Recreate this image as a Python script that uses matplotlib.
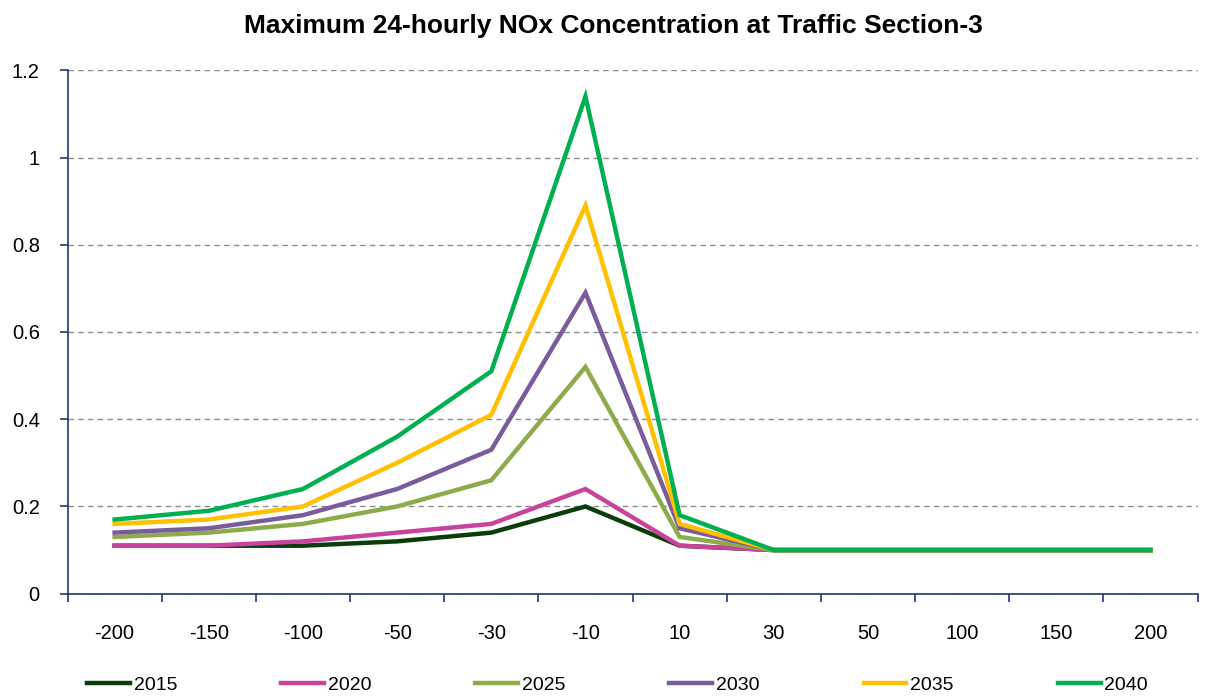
import matplotlib.pyplot as plt
from matplotlib.ticker import FixedLocator

plt.rcParams['font.family'] = ['Liberation Sans', 'DejaVu Sans']

distances = ['-200', '-150', '-100', '-50', '-30', '-10', '10', '30', '50', '100', '150', '200']
years = ['2015', '2020', '2025', '2030', '2035', '2040']

nox_2015 = [0.11, 0.11, 0.11, 0.12, 0.14, 0.20, 0.11, 0.10, 0.10, 0.10, 0.10, 0.10]
nox_2020 = [0.11, 0.11, 0.12, 0.14, 0.16, 0.24, 0.11, 0.10, 0.10, 0.10, 0.10, 0.10]
nox_2025 = [0.13, 0.14, 0.16, 0.20, 0.26, 0.52, 0.13, 0.10, 0.10, 0.10, 0.10, 0.10]
nox_2030 = [0.14, 0.15, 0.18, 0.24, 0.33, 0.69, 0.15, 0.10, 0.10, 0.10, 0.10, 0.10]
nox_2035 = [0.16, 0.17, 0.20, 0.30, 0.41, 0.89, 0.16, 0.10, 0.10, 0.10, 0.10, 0.10]
nox_2040 = [0.17, 0.19, 0.24, 0.36, 0.51, 1.14, 0.18, 0.10, 0.10, 0.10, 0.10, 0.10]

colors = ['#0b3d0b', '#c8449c', '#8eab4c', '#7a5c9c', '#ffc000', '#00b050']
series = [nox_2015, nox_2020, nox_2025, nox_2030, nox_2035, nox_2040]

fig = plt.figure(figsize=(12.06, 6.96), dpi=100)
ax = fig.add_axes([0.056, 0.147, 0.937, 0.752])

x = list(range(len(distances)))
for vals, yr, c in zip(series, years, colors):
    ax.plot(x, vals, color=c, lw=3.2, label=yr, solid_joinstyle='miter')

ax.set_xlim(-0.5, len(distances) - 0.5)
ax.set_ylim(0, 1.2)
ax.set_yticks([0, 0.2, 0.4, 0.6, 0.8, 1.0, 1.2])
ax.set_yticklabels(['0', '0.2', '0.4', '0.6', '0.8', '1', '1.2'])
ax.set_xticks(x)
ax.set_xticklabels(distances)
ax.xaxis.set_minor_locator(FixedLocator([i - 0.5 for i in range(len(distances) + 1)]))
ax.tick_params(axis='x', which='major', length=0, pad=22, labelsize=14.5)
ax.tick_params(axis='x', which='minor', length=6, color='#1f3a6e', width=1.2, direction='out')
ax.tick_params(axis='y', length=6, color='#1f3a6e', width=1.2, labelsize=14.5, pad=14)

ax.grid(axis='y', linestyle=(0, (4, 3)), color='#8c8c8c', lw=1)
ax.set_axisbelow(True)
for s in ['top', 'right']:
    ax.spines[s].set_visible(False)
for s in ['left', 'bottom']:
    ax.spines[s].set_color('#1f3a6e')
    ax.spines[s].set_linewidth(1.2)

fig.text(0.509, 0.962, 'Maximum 24-hourly NOx Concentration at Traffic Section-3',
         ha='center', va='center', fontsize=19, fontweight='bold')

fig.legend(loc='lower center', bbox_to_anchor=(0.512, -0.022), ncol=6, frameon=False,
           fontsize=14, handlelength=2.2, columnspacing=5.35, handletextpad=0.2)

fig.savefig('out.png', dpi=100)
